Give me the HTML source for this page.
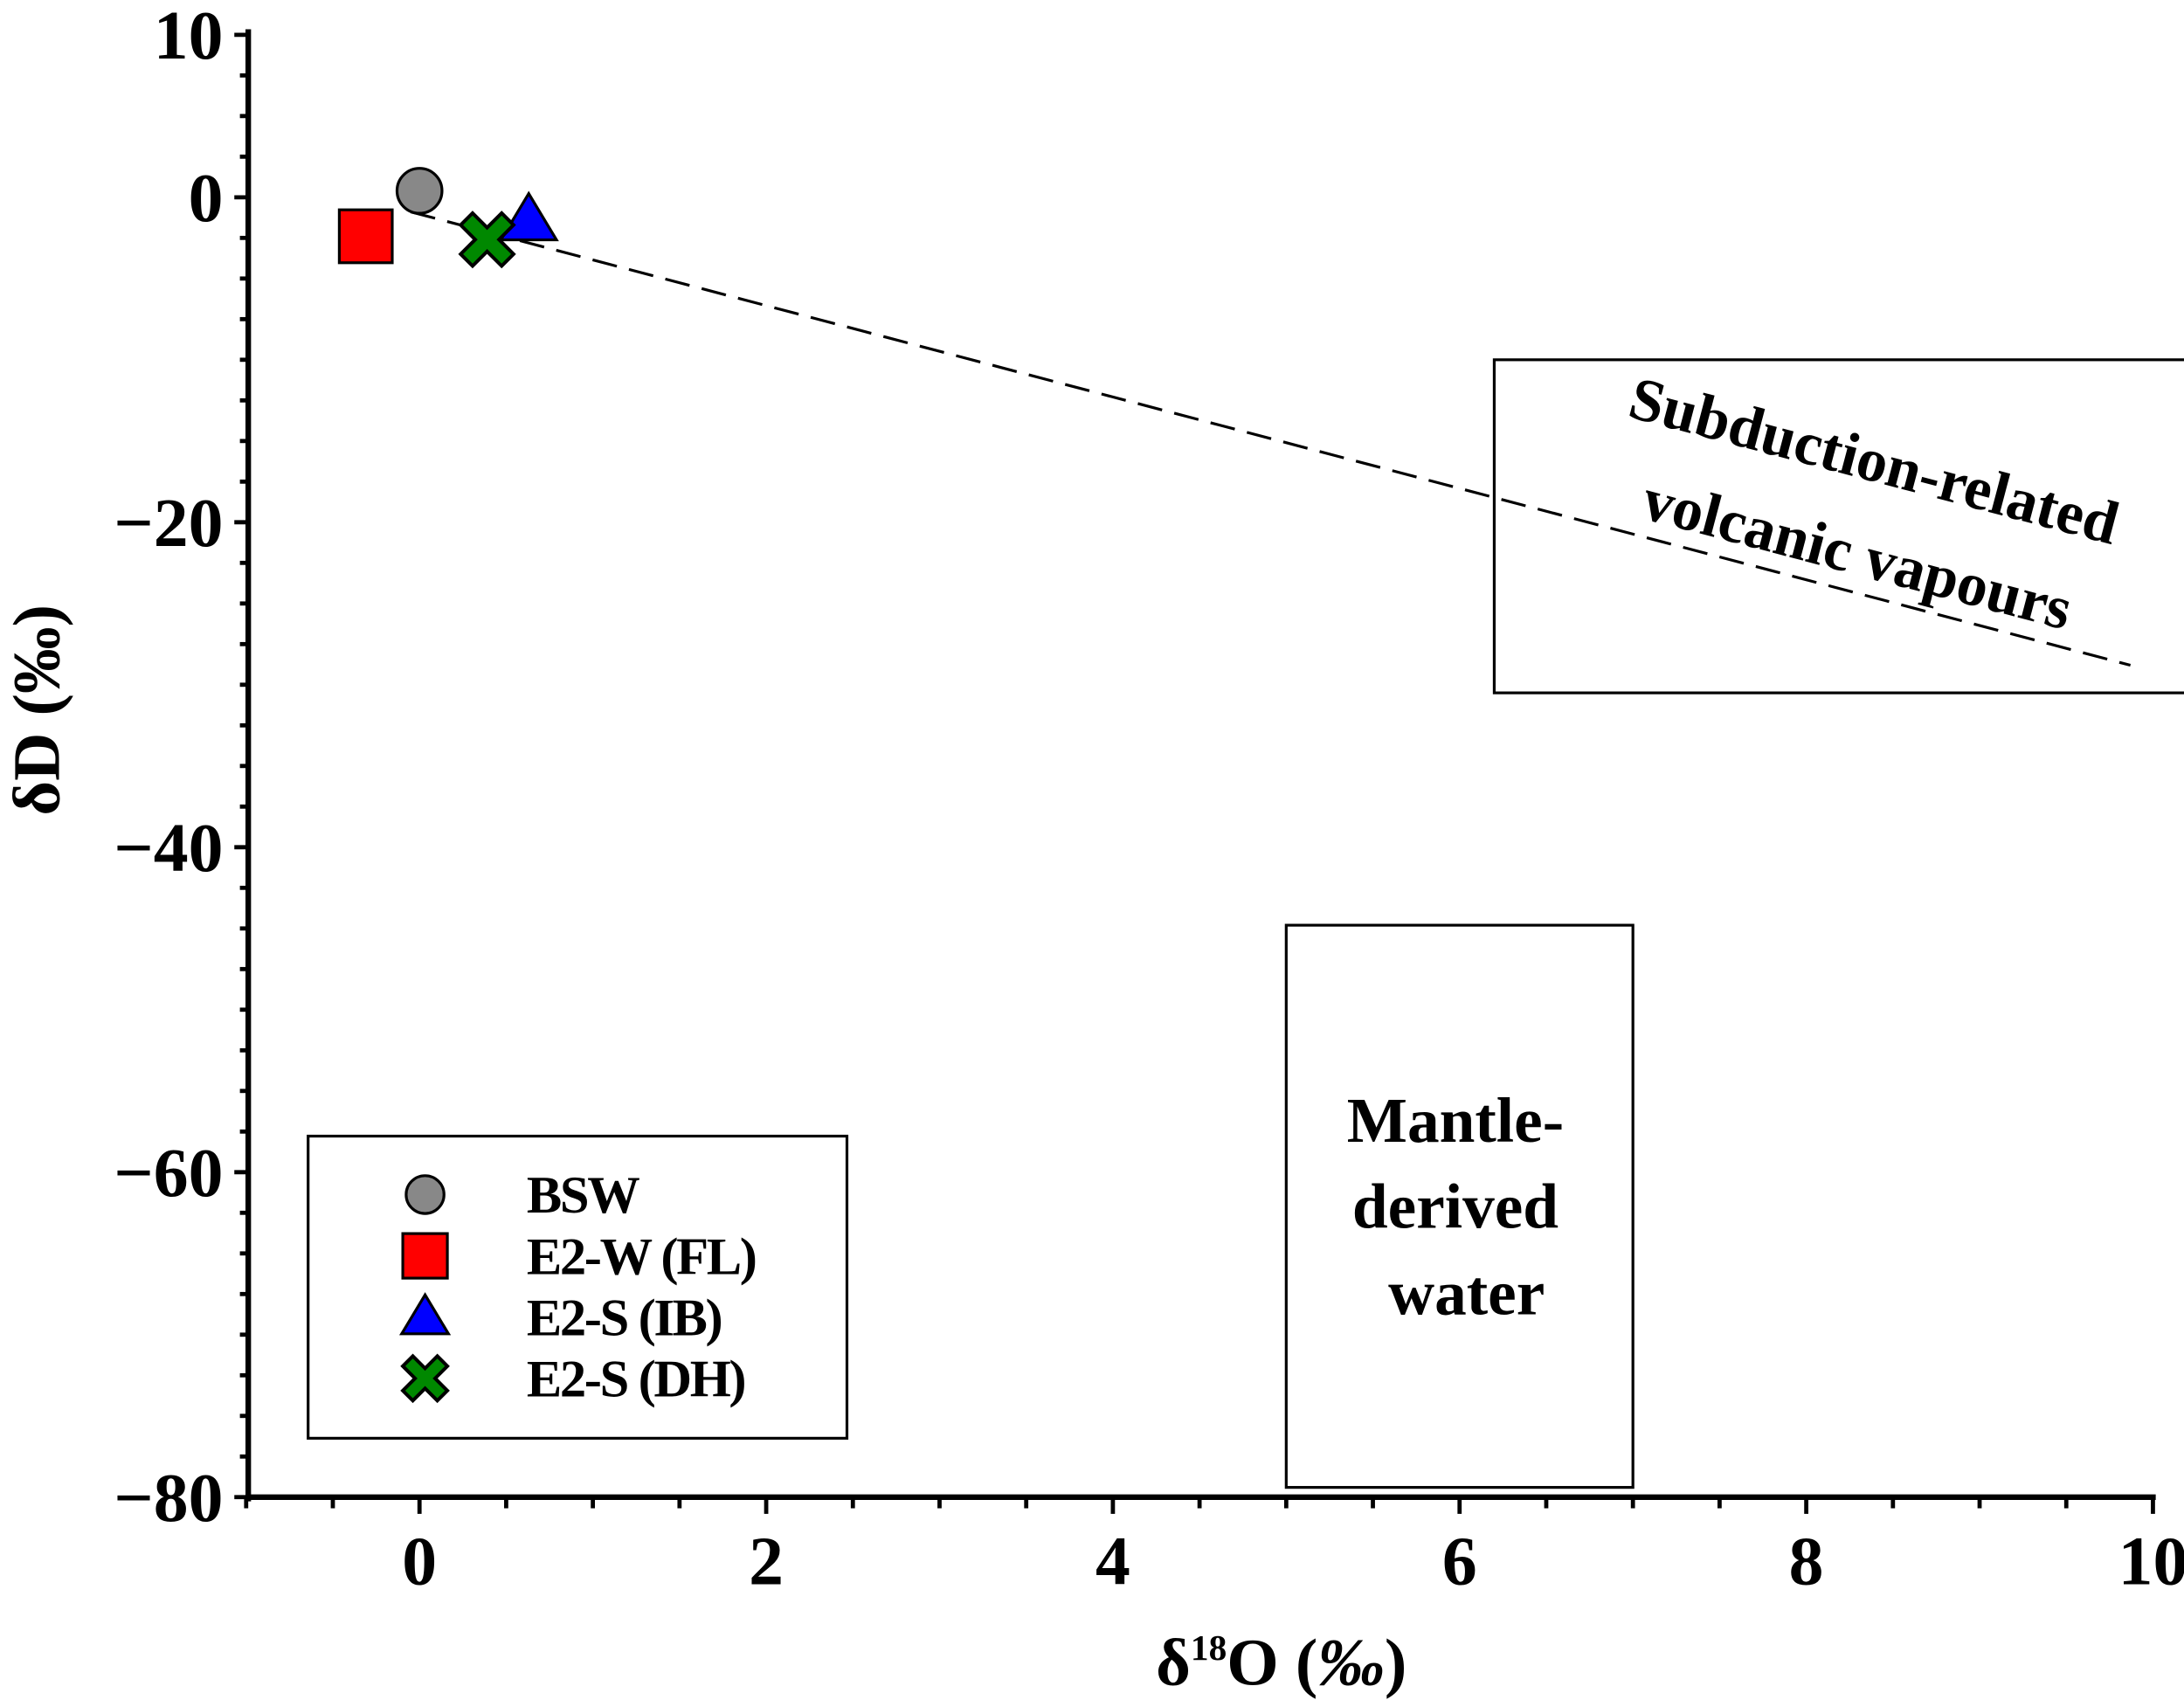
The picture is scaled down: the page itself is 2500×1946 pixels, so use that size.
<!DOCTYPE html>
<html><head><meta charset="utf-8"><style>html,body{margin:0;padding:0;background:#fff}svg{display:block}text{font-family:"Liberation Serif",serif;font-weight:bold}</style></head>
<body>
<svg id="chart" width="2500" height="1946" viewBox="0 0 1568 1221" xmlns="http://www.w3.org/2000/svg">
<g id="axes"></g>
<g id="regions"></g>
<g id="marks"></g>
<g id="legend"></g>
</svg>
<script>
const seriesNames = ["BSW","E2-W (FL)","E2-S (IB)","E2-S (DH)"];
const seriesX = [0, -0.31, 0.63, 0.39];
const seriesY = [0.4, -2.4, -1.4, -2.6];
const xTicks = [0,2,4,6,8,10];
const yTicks = [10,0,-20,-40,-60,-80];
const yTickLabels = ["10","0","\u221220","\u221240","\u221260","\u221280"];
const lineX = [-0.05, 9.87];
const lineY = [-0.9, -28.8];
const boxSubX = [6.2, 10.24], boxSubY = [-10, -30.5];
const boxManX = [5, 7], boxManY = [-44.8, -79.4];

const NS="http://www.w3.org/2000/svg";
const X0=301, XS=124.5, Y0=141.7, YS=11.67;
const sx=v=>X0+v*XS, sy=v=>Y0-v*YS;
function mk(tag,attrs,parent,txt){const e=document.createElementNS(NS,tag);for(const k in attrs)e.setAttribute(k,attrs[k]);if(txt!==undefined)e.textContent=txt;parent.appendChild(e);return e;}
const axes=document.getElementById('axes');
let e;
e=mk('line',{x1:178,y1:sy(10)-4,x2:178,y2:sy(-80)+3,stroke:'#000','stroke-width':4},axes);

e=mk('line',{x1:176,y1:sy(-80),x2:sx(10)+2,y2:sy(-80),stroke:'#000','stroke-width':4},axes);

for(let v=-1;v<=10.001;v+=0.5){const major=Math.abs(v-Math.round(v))<1e-6&&Math.round(v)%2===0;
 mk('line',{x1:sx(v),y1:sy(-80),x2:sx(v),y2:sy(-80)+(major?12:8),stroke:'#000','stroke-width':3},axes);}
for(let v=-80;v<=10.001;v+=2.5){const major=yTicks.includes(v);
 mk('line',{x1:178,y1:sy(v),x2:178-(major?10:6),y2:sy(v),stroke:'#000','stroke-width':3},axes);}
xTicks.forEach(v=>{const t=mk('text',{x:sx(v),y:1138,'text-anchor':'middle','font-size':50},axes,String(v));
 });
yTicks.forEach((v,i)=>{const t=mk('text',{x:160,y:sy(v)+17,'text-anchor':'end','font-size':50},axes,yTickLabels[i]);
 });
e=mk('text',{x:920,y:1210,'text-anchor':'middle','font-size':48},axes);
e.innerHTML='δ<tspan font-size="26" dy="-18">18</tspan><tspan dy="18">O (</tspan><tspan font-style="italic">‰</tspan>)';

e=mk('text',{transform:'translate(42,510) rotate(-90)','text-anchor':'middle','font-size':48},axes,'δD (‰)');


const reg=document.getElementById('regions');
e=mk('rect',{x:sx(boxSubX[0]),y:sy(boxSubY[0]),width:sx(boxSubX[1])-sx(boxSubX[0]),height:sy(boxSubY[1])-sy(boxSubY[0]),fill:'none',stroke:'#000','stroke-width':2},reg);

e=mk('rect',{x:sx(boxManX[0]),y:sy(boxManY[0]),width:sx(boxManX[1])-sx(boxManX[0]),height:sy(boxManY[1])-sy(boxManY[0]),fill:'none',stroke:'#000','stroke-width':2},reg);

e=mk('text',{x:1342,y:345,'text-anchor':'middle','font-size':44,transform:'rotate(14.8 1342 345)'},reg,'Subduction-related');

e=mk('text',{x:1330,y:412,'text-anchor':'middle','font-size':44,transform:'rotate(14.8 1330 412)'},reg,'volcanic vapours');

['Mantle-','derived','water'].forEach((s,i)=>{const t=mk('text',{x:1045+(i===2?8:0),y:820+i*62,'text-anchor':'middle','font-size':46},reg,s);
 });
e=mk('line',{x1:sx(lineX[0]),y1:sy(lineY[0]),x2:sx(lineX[1]),y2:sy(lineY[1]),stroke:'#000','stroke-width':2,'stroke-dasharray':'18,9'},reg);


function marker(i,cx,cy,s,parent){
 let m;
 if(i===0) m=mk('circle',{cx:cx,cy:cy,r:s*0.85,fill:'#888',stroke:'#000','stroke-width':2},parent);
 else if(i===1) m=mk('rect',{x:cx-s,y:cy-s,width:2*s,height:2*s,fill:'#f00',stroke:'#000','stroke-width':2},parent);
 else if(i===2) m=mk('polygon',{points:`${cx},${cy-s} ${cx+s*1.05},${cy+s*0.75} ${cx-s*1.05},${cy+s*0.75}`,fill:'#00f',stroke:'#000','stroke-width':2},parent);
 else {const a=s*0.45,b=s;m=mk('polygon',{points:[[-b,-b+a],[-b+a,-b],[0,-a],[b-a,-b],[b,-b+a],[a,0],[b,b-a],[b-a,b],[0,a],[-b+a,b],[-b,b-a],[-a,0]].map(p=>(cx+p[0])+','+(cy+p[1])).join(' '),fill:'#080',stroke:'#000','stroke-width':2.5},parent);}
 return m;}
const marks=document.getElementById('marks');
seriesX.forEach((v,i)=>{const m=marker(i,sx(v),sy(seriesY[i]),19,marks);
 
 });

const lg=document.getElementById('legend');
e=mk('rect',{x:221,y:816,width:387,height:217,fill:'#fff',stroke:'#000','stroke-width':2},lg);

seriesNames.forEach((n,i)=>{const y=858+i*44;const m=marker(i,305,y,16,lg);
 
 const t=mk('text',{x:378,y:y+13,'font-size':38,'letter-spacing':'-1.5'},lg,n);
 });
</script>
</body></html>
